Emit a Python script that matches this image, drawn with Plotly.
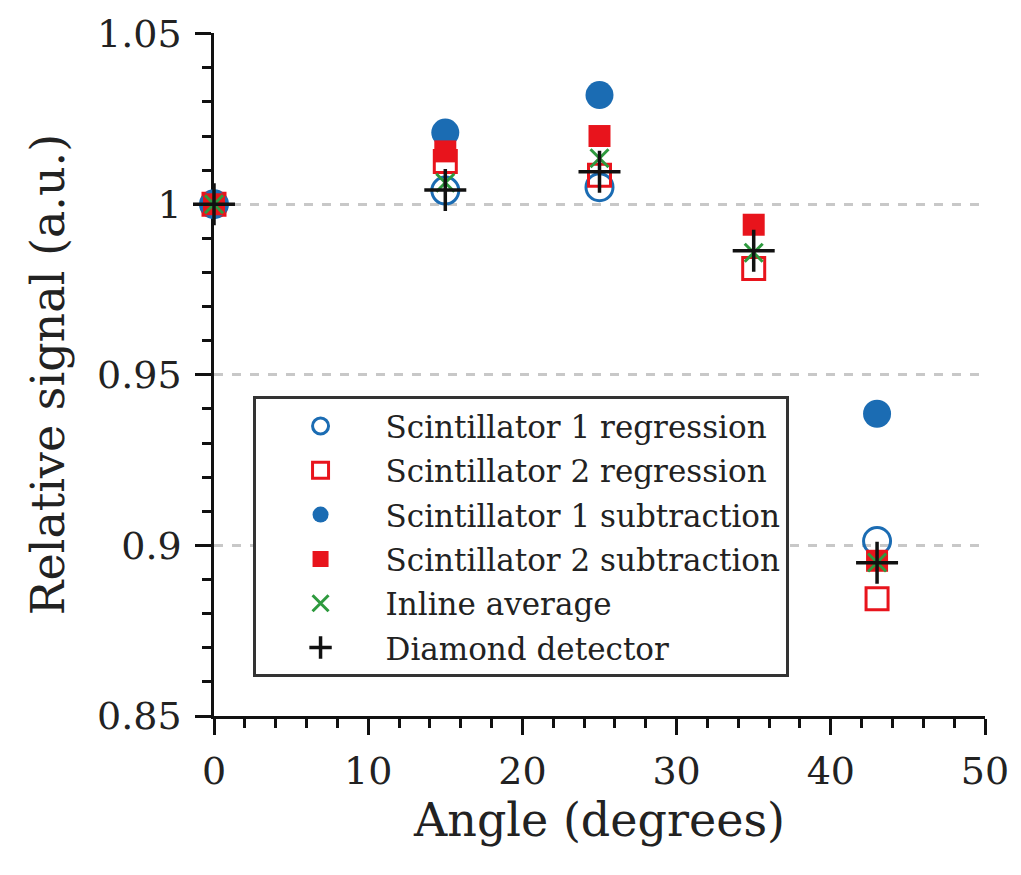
import plotly.graph_objects as go

angles = [0, 15, 25, 35, 43]
s1_regression = [1.000, 1.004, 1.005, None, 0.9013]
s2_regression = [1.000, 1.0125, 1.0085, 0.9812, 0.8844]
s1_subtraction = [1.000, 1.021, 1.032, None, 0.9386]
s2_subtraction = [1.000, 1.0155, 1.020, 0.994, 0.8955]
inline_average = [1.000, 1.0063, 1.0135, 0.9858, 0.895]
diamond = [1.000, 1.0042, 1.0095, 0.9864, 0.8949]

names = ["Scintillator 1 regression", "Scintillator 2 regression",
         "Scintillator 1 subtraction", "Scintillator 2 subtraction",
         "Inline average", "Diamond detector"]

y_tickvals = [0.85, 0.9, 0.95, 1.0, 1.05]
y_ticktext = ["0.85", "0.9", "0.95", "1", "1.05"]
x_tickvals = [0, 10, 20, 30, 40, 50]

BLUE = "#1b6cb3"
RED = "#e8141c"
GREEN = "#2e9a3e"
BLACK = "#111111"
TEXT = "#222222"

fig = go.Figure()
styles = [
    (s1_regression, dict(symbol="circle-open", size=27, color=BLUE, line=dict(width=3, color=BLUE))),
    (s2_regression, dict(symbol="square-open", size=22, color=RED, line=dict(width=3, color=RED))),
    (s1_subtraction, dict(symbol="circle", size=28, color=BLUE, line=dict(width=0))),
    (s2_subtraction, dict(symbol="square", size=22, color=RED, line=dict(width=0))),
    (inline_average, dict(symbol="x-thin", size=18, color=GREEN, line=dict(width=3, color=GREEN))),
    (diamond, dict(symbol="cross-thin", size=30, color=BLACK, line=dict(width=3.5, color=BLACK))),
]
for i, (vals, mk) in enumerate(styles):
    fig.add_trace(go.Scatter(x=angles, y=vals, mode="markers", name=names[i],
                             marker=mk, cliponaxis=False, legendgroup=f"g{i}"))

font_family = "DejaVu Serif"
fig.update_layout(
    width=1021, height=875,
    margin=dict(l=214, r=32, t=30, b=159),
    plot_bgcolor="white", paper_bgcolor="white",
    font=dict(family=font_family, color=TEXT),
    showlegend=True,
    legend=dict(x=0.05, y=0.468, xanchor="left", yanchor="top",
                bgcolor="white", bordercolor="#333333", borderwidth=3,
                font=dict(size=31, family=font_family, color=TEXT),
                itemwidth=120, tracegroupgap=1, itemsizing="trace"),
    xaxis=dict(range=[0, 50], tickvals=x_tickvals, showgrid=False, zeroline=False,
               showline=True, linecolor=BLACK, linewidth=2.5,
               ticks="outside", ticklen=16, tickwidth=2.5, tickcolor=BLACK,
               minor=dict(dtick=2, tick0=0, ticks="outside", ticklen=9, tickwidth=2.5, tickcolor=BLACK),
               tickfont=dict(size=38, family=font_family, color=TEXT),
               ticklabelstandoff=4,
               title=dict(text="Angle (degrees)", font=dict(size=46, family=font_family, color=TEXT), standoff=8),
               layer="below traces"),
    yaxis=dict(range=[0.85, 1.0502], tickvals=y_tickvals, ticktext=y_ticktext,
               showgrid=True, gridcolor="#c8c8c8", gridwidth=2.5, griddash="dash",
               zeroline=False, showline=True, linecolor=BLACK, linewidth=2.5,
               ticks="outside", ticklen=16, tickwidth=2.5, tickcolor=BLACK,
               minor=dict(dtick=0.01, tick0=0.85, ticks="outside", ticklen=9, tickwidth=2.5,
                          tickcolor=BLACK, showgrid=False),
               tickfont=dict(size=38, family=font_family, color=TEXT),
               ticklabelstandoff=6,
               title=dict(text="Relative signal (a.u.)", font=dict(size=46, family=font_family, color=TEXT), standoff=18),
               layer="below traces"),
)

fig.write_html("out.html")
